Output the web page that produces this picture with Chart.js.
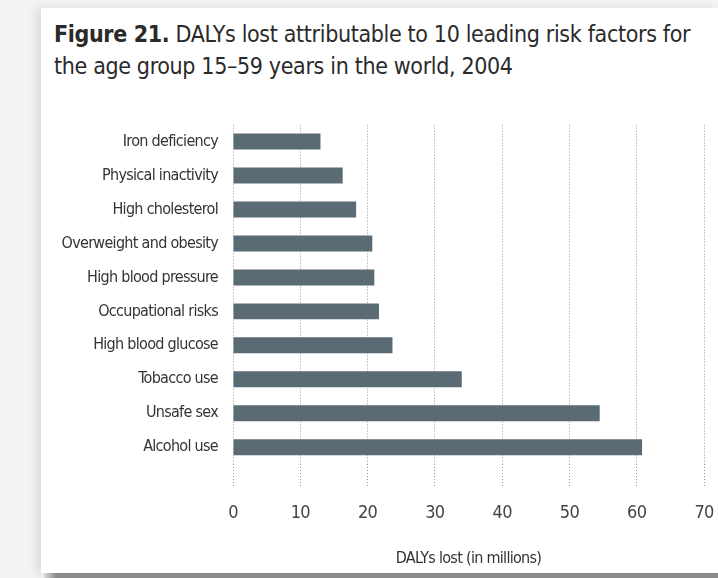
<!DOCTYPE html>
<html>
<head>
<meta charset="utf-8">
<script src="https://cdn.jsdelivr.net/npm/chart.js@4"></script>
<style>
  html, body { margin: 0; padding: 0; }
  body { width: 718px; height: 578px; background: #f3f3f3; position: relative; overflow: hidden;
         font-family: "DejaVu Sans Condensed", "DejaVu Sans", sans-serif; }
  #card { position: absolute; left: 41px; top: 8px; width: 677px; height: 565px; background: #fff;
          box-shadow: -5px 0 9px rgba(0,0,0,0.10); }
  #shadowBottom { position: absolute; left: 44px; top: 573px; width: 674px; height: 5px;
          background: linear-gradient(to right, rgba(140,140,140,0.2), #8c8c8c 12px, #8c8c8c); }
  #title { position: absolute; left: 13px; top: 10px; font-size: 23px; line-height: 32px; color: #2a2a2a;
           letter-spacing: -0.35px; white-space: nowrap; }
  #title b { font-weight: bold; }
  #wrap { position: absolute; left: 0px; top: 92px; width: 677px; height: 473px; }
</style>
</head>
<body>
<div id="card">
  <div id="title"><b>Figure 21.</b> DALYs lost attributable to 10 leading risk factors for<br>the age group 15–59 years in the world, 2004</div>
  <div id="wrap"><canvas id="c"></canvas></div>
</div>
<div id="shadowBottom"></div>
<script>
const categories = [
  "Iron deficiency",
  "Physical inactivity",
  "High cholesterol",
  "Overweight and obesity",
  "High blood pressure",
  "Occupational risks",
  "High blood glucose",
  "Tobacco use",
  "Unsafe sex",
  "Alcohol use"
];
const dalysLost = [13.0, 16.3, 18.3, 20.7, 21.0, 21.7, 23.7, 34.0, 54.5, 60.8];
const xTicks = [0, 10, 20, 30, 40, 50, 60, 70];
const axisTitle = "DALYs lost (in millions)";

const FONT = "'DejaVu Sans Condensed', 'DejaVu Sans', sans-serif";

const condensedText = {
  id: 'condensedText',
  beforeDraw(chart) { chart.ctx.letterSpacing = '-0.7px'; }
};

new Chart(document.getElementById('c'), {
  type: 'bar',
  data: {
    labels: categories,
    datasets: [{
      data: dalysLost,
      backgroundColor: '#5b6b76',
      borderWidth: 0,
      categoryPercentage: 1.0,
      barPercentage: 0.47
    }]
  },
  options: {
    indexAxis: 'y',
    responsive: true,
    maintainAspectRatio: false,
    animation: false,
    layout: { padding: { top: 24, right: 14, bottom: 0, left: 0 } },
    plugins: { legend: { display: false }, tooltip: { enabled: false } },
    scales: {
      x: {
        min: 0, max: 70,
        afterBuildTicks: (s) => { s.ticks = xTicks.map(v => ({ value: v })); },
        afterFit: (s) => { s.paddingLeft = 0; s.paddingRight = 0; },
        grid: {
          display: true,
          color: '#999',
          lineWidth: 1,
          drawTicks: true,
          tickLength: 22,
          tickColor: '#999',
          tickBorderDash: [1, 2]
        },
        border: { display: false, dash: [1, 2] },
        ticks: { color: '#444', padding: 16, font: { family: FONT, size: 18 } },
        title: {
          display: true, text: axisTitle, color: '#333',
          font: { family: FONT, size: 16 },
          padding: { top: 9, bottom: 5 }
        }
      },
      y: {
        grid: { display: false, drawTicks: false },
        border: { display: false },
        afterFit: (s) => { s.width = 192; },
        ticks: { color: '#333', padding: 15, font: { family: FONT, size: 16 } }
      }
    }
  },
  plugins: [condensedText]
});
Chart.defaults.scale.grid.borderDash = [1, 2];
</script>
</body>
</html>
